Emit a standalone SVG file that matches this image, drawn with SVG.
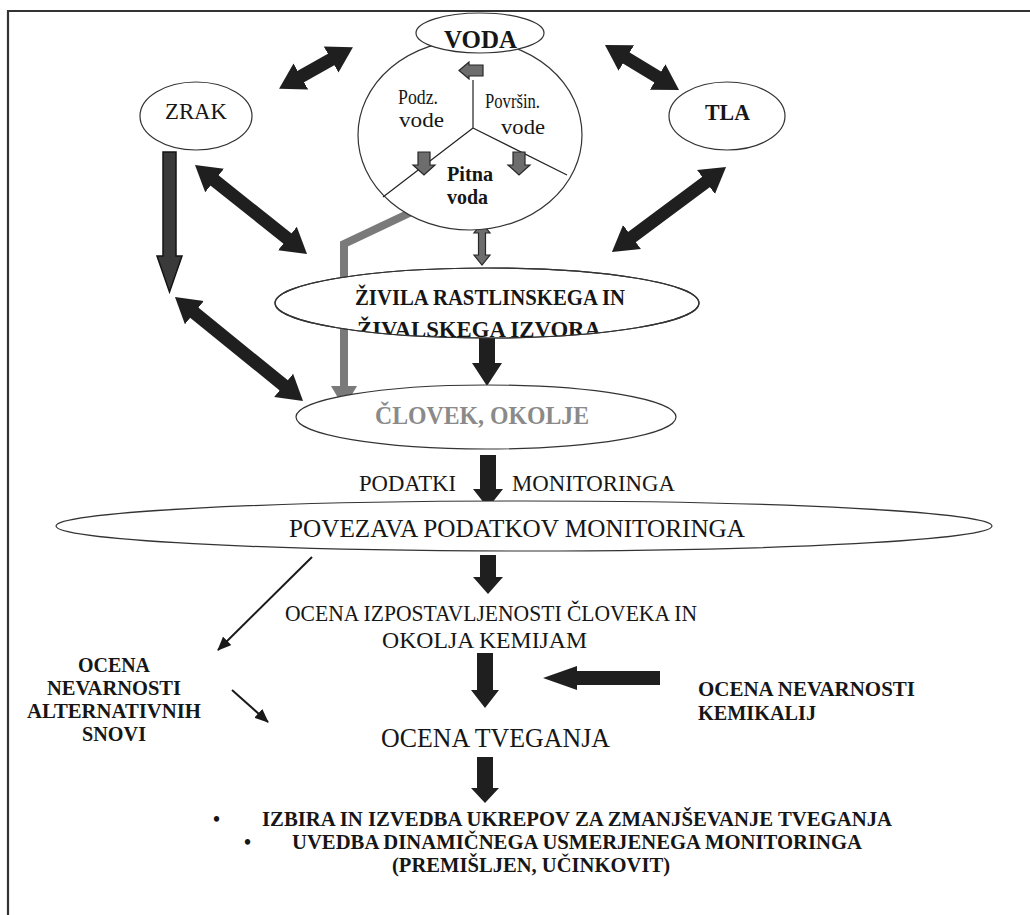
<svg xmlns="http://www.w3.org/2000/svg" width="1030" height="915" viewBox="0 0 1030 915">
  <style>
    .el { fill: #fff; stroke: #333; stroke-width: 1.2; }
    .t { font-family: "Liberation Serif", "Times New Roman", Times, serif; fill: #161616; }
    .b { font-weight: bold; }
    .blk { fill: #1f1f1f; }
    .dbl { stroke: #1f1f1f; stroke-width: 13; fill: none; marker-start: url(#hd); marker-end: url(#hd); }
    .thin { stroke: #1a1a1a; stroke-width: 2; fill: none; marker-end: url(#th); }
    .gry { fill: #6d6d6d; stroke: #262626; stroke-width: 1.2; }
  </style>
  <defs>
    <marker id="hd" markerUnits="userSpaceOnUse" viewBox="0 0 25 32" markerWidth="25" markerHeight="32" refX="1" refY="16" orient="auto-start-reverse">
      <path d="M0,1 L25,16 L0,31 Z" fill="#1f1f1f"/>
    </marker>
    <marker id="th" markerUnits="userSpaceOnUse" viewBox="0 0 14 12" markerWidth="14" markerHeight="12" refX="13" refY="6" orient="auto">
      <path d="M0,0 L14,6 L0,12 Z" fill="#1a1a1a"/>
    </marker>
    <clipPath id="zivClip">
      <ellipse cx="487" cy="303" rx="212" ry="35"/>
    </clipPath>
  </defs>

  <!-- frame -->
  <path d="M8,915 V11 H1030" fill="none" stroke="#333" stroke-width="2.2"/>

  <!-- connectors -->
  <g id="connectors">
    <!-- two-way exchanges between compartments -->
    <line class="dbl" x1="300" y1="77" x2="332" y2="59"/>
    <line class="dbl" x1="625.5" y1="57.5" x2="658.5" y2="77.5"/>
    <line class="dbl" x1="706.8" y1="181.4" x2="631.2" y2="237.6"/>
    <line class="dbl" x1="213.8" y1="179.9" x2="288.2" y2="239.1"/>
    <line class="dbl" x1="193.6" y1="312.1" x2="284.4" y2="385.9"/>

    <!-- air deposition arrow -->
    <polygon points="163,152 176,152 176,256 182,256 169.5,292 157,256 163,256" fill="#3a3a3a" stroke="#141414" stroke-width="1.5"/>

    <!-- drinking water to humans -->
    <polyline points="437,200 344,244 344,390" fill="none" stroke="#7a7a7a" stroke-width="8" stroke-linejoin="miter"/>
    <polygon points="331,386 357,386 344,408" fill="#7a7a7a"/>

    <!-- water <-> food -->
    <polygon class="gry" points="482,223 490,233 485.5,233 485.5,255 490,255 482,265 474,255 478.5,255 478.5,233 474,233"/>

    <!-- main vertical flow -->
    <polygon class="blk" points="479,338 495,338 495,363 502,363 487,386 472,363 479,363"/>
    <polygon class="blk" points="480,455 496,455 496,489 503,489 488,508 473,489 480,489"/>
    <polygon class="blk" points="480,555 496,555 496,577 503,577 488,594 473,577 480,577"/>
    <polygon class="blk" points="477,653 493,653 493,690 499,690 485,708 471,690 477,690"/>
    <polygon class="blk" points="477,757 493,757 493,788 499,788 485,803 471,788 477,788"/>

    <!-- chemical hazard input -->
    <polygon class="blk" points="660,671 660,685 577,685 577,690 543,678 577,666 577,671"/>

    <!-- alternatives branch -->
    <line class="thin" x1="312" y1="557" x2="218" y2="650"/>
    <line class="thin" x1="232" y1="690" x2="268" y2="722"/>
  </g>

  <!-- compartments -->
  <g id="zrak">
    <ellipse class="el" cx="196" cy="116" rx="56" ry="34"/>
    <text class="t" x="165" y="119" font-size="23" textLength="62" lengthAdjust="spacingAndGlyphs">ZRAK</text>
  </g>

  <g id="tla">
    <ellipse class="el" cx="727" cy="116" rx="58" ry="34"/>
    <text class="t b" x="705" y="120" font-size="23" textLength="45" lengthAdjust="spacingAndGlyphs">TLA</text>
  </g>

  <g id="voda-krog">
    <ellipse class="el" cx="470" cy="135" rx="112" ry="95"/>
    <!-- sector dividers -->
    <path d="M473,80 V128 M473,128 L383,197 M473,128 L567,175" fill="none" stroke="#222" stroke-width="1.2"/>
    <polygon class="gry" points="459,70.5 469,62 469,65 483,65 483,76 469,76 469,79"/>
    <polygon class="gry" points="418,152 430,152 430,165 435,165 424,175 413,165 418,165"/>
    <polygon class="gry" points="513,152 525,152 525,165 530,165 519,175 508,165 513,165"/>
    <text class="t" x="398" y="104" font-size="22" textLength="40" lengthAdjust="spacingAndGlyphs">Podz.</text>
    <text class="t" x="399" y="127" font-size="22" textLength="45" lengthAdjust="spacingAndGlyphs">vode</text>
    <text class="t" x="485" y="108" font-size="22" textLength="55" lengthAdjust="spacingAndGlyphs">Površin.</text>
    <text class="t" x="501" y="134" font-size="22" textLength="44" lengthAdjust="spacingAndGlyphs">vode</text>
    <text class="t b" x="447" y="181" font-size="21" textLength="46" lengthAdjust="spacingAndGlyphs">Pitna</text>
    <text class="t b" x="447" y="204" font-size="21" textLength="41" lengthAdjust="spacingAndGlyphs">voda</text>
  </g>

  <g id="voda">
    <ellipse class="el" cx="480" cy="33" rx="64" ry="20"/>
    <text class="t b" x="444" y="48" font-size="26" textLength="73" lengthAdjust="spacingAndGlyphs">VODA</text>
  </g>

  <g id="zivila">
    <ellipse class="el" cx="487" cy="303" rx="212" ry="35"/>
    <g clip-path="url(#zivClip)">
      <text class="t b" x="355" y="305" font-size="23" textLength="270" lengthAdjust="spacingAndGlyphs">ŽIVILA RASTLINSKEGA IN</text>
      <text class="t b" x="357" y="337" font-size="23" textLength="244" lengthAdjust="spacingAndGlyphs">ŽIVALSKEGA IZVORA</text>
    </g>
    <ellipse cx="487" cy="303" rx="212" ry="35" fill="none" stroke="#333" stroke-width="1.2"/>
  </g>

  <g id="clovek">
    <ellipse class="el" cx="486" cy="417" rx="190" ry="32"/>
    <text class="t b" x="375" y="424" font-size="25" style="fill:#8a8a8a" textLength="214" lengthAdjust="spacingAndGlyphs">ČLOVEK, OKOLJE</text>
  </g>

  <g id="podatki">
    <text class="t" x="359" y="491" font-size="24" textLength="97" lengthAdjust="spacingAndGlyphs">PODATKI</text>
    <text class="t" x="512" y="491" font-size="24" textLength="163" lengthAdjust="spacingAndGlyphs">MONITORINGA</text>
  </g>

  <g id="povezava">
    <ellipse class="el" cx="524" cy="526" rx="468" ry="25"/>
    <text class="t" x="289" y="537" font-size="26" textLength="456" lengthAdjust="spacingAndGlyphs">POVEZAVA PODATKOV MONITORINGA</text>
  </g>

  <g id="izpostavljenost">
    <text class="t" x="285" y="621" font-size="23" textLength="412" lengthAdjust="spacingAndGlyphs">OCENA IZPOSTAVLJENOSTI ČLOVEKA IN</text>
    <text class="t" x="382" y="648" font-size="23" textLength="205" lengthAdjust="spacingAndGlyphs">OKOLJA KEMIJAM</text>
  </g>

  <g id="alternative">
    <text class="t b" x="114" y="672" font-size="22" text-anchor="middle" textLength="72" lengthAdjust="spacingAndGlyphs">OCENA</text>
    <text class="t b" x="114" y="695" font-size="22" text-anchor="middle" textLength="134" lengthAdjust="spacingAndGlyphs">NEVARNOSTI</text>
    <text class="t b" x="114" y="718" font-size="22" text-anchor="middle" textLength="174" lengthAdjust="spacingAndGlyphs">ALTERNATIVNIH</text>
    <text class="t b" x="114" y="741" font-size="22" text-anchor="middle" textLength="64" lengthAdjust="spacingAndGlyphs">SNOVI</text>
  </g>

  <g id="kemikalije">
    <text class="t b" x="698" y="696" font-size="22" textLength="217" lengthAdjust="spacingAndGlyphs">OCENA NEVARNOSTI</text>
    <text class="t b" x="698" y="720" font-size="22" textLength="118" lengthAdjust="spacingAndGlyphs">KEMIKALIJ</text>
  </g>

  <g id="tveganje">
    <text class="t" x="381" y="747" font-size="27" textLength="229" lengthAdjust="spacingAndGlyphs">OCENA TVEGANJA</text>
  </g>

  <g id="ukrepi">
    <text class="t b" x="213" y="826" font-size="20">•</text>
    <text class="t b" x="262" y="826" font-size="20" textLength="630" lengthAdjust="spacingAndGlyphs">IZBIRA IN IZVEDBA UKREPOV ZA ZMANJŠEVANJE TVEGANJA</text>
    <text class="t b" x="244" y="849" font-size="20">•</text>
    <text class="t b" x="292" y="849" font-size="20" textLength="570" lengthAdjust="spacingAndGlyphs">UVEDBA DINAMIČNEGA USMERJENEGA MONITORINGA</text>
    <text class="t b" x="392" y="872" font-size="20" textLength="278" lengthAdjust="spacingAndGlyphs">(PREMIŠLJEN, UČINKOVIT)</text>
  </g>
</svg>
